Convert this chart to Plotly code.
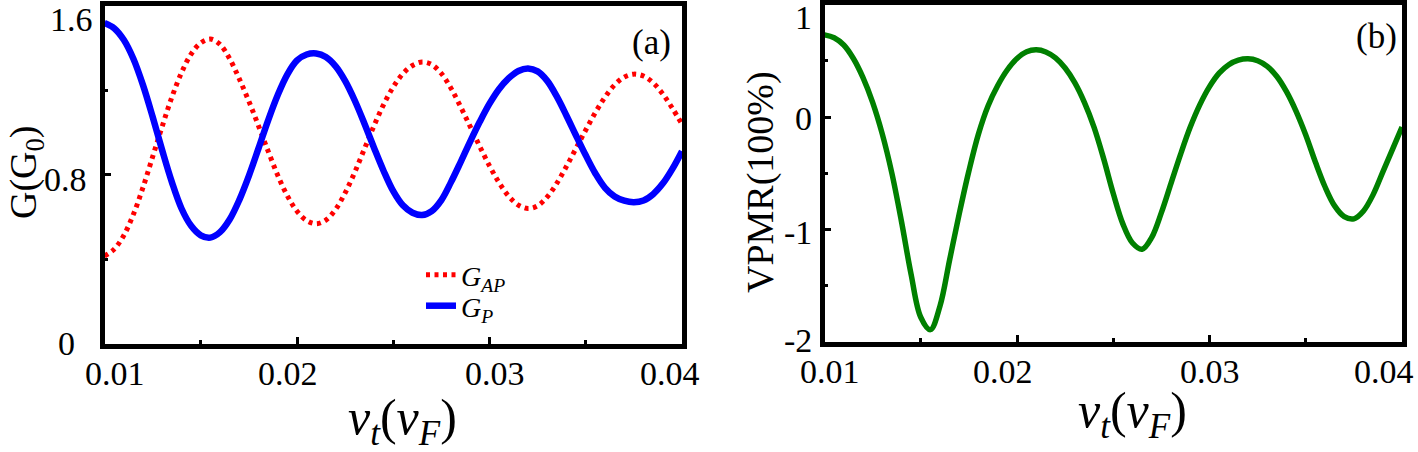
import plotly.graph_objects as go

# ---------------- data ----------------
vt = [0.0100, 0.0105, 0.0110, 0.0115, 0.0120, 0.0125, 0.0130, 0.0135, 0.0140, 0.0145,
      0.0150, 0.0155, 0.0160, 0.0165, 0.0170, 0.0175, 0.0180, 0.0185, 0.0190, 0.0195,
      0.0200, 0.0205, 0.0210, 0.0215, 0.0220, 0.0225, 0.0230, 0.0235, 0.0240, 0.0245,
      0.0250, 0.0255, 0.0260, 0.0265, 0.0270, 0.0275, 0.0280, 0.0285, 0.0290, 0.0295,
      0.0300, 0.0305, 0.0310, 0.0315, 0.0320, 0.0325, 0.0330, 0.0335, 0.0340, 0.0345,
      0.0350, 0.0355, 0.0360, 0.0365, 0.0370, 0.0375, 0.0380, 0.0385, 0.0390, 0.0395,
      0.0400]

g_ap = [0.415, 0.447, 0.512, 0.612, 0.740, 0.885, 1.030, 1.168, 1.284, 1.372,
        1.425, 1.443, 1.418, 1.350, 1.255, 1.148, 1.032, 0.912, 0.797, 0.700,
        0.627, 0.583, 0.568, 0.585, 0.635, 0.714, 0.812, 0.922, 1.032, 1.133,
        1.216, 1.279, 1.318, 1.334, 1.322, 1.280, 1.210, 1.122, 1.028, 0.933,
        0.842, 0.762, 0.698, 0.656, 0.640, 0.653, 0.695, 0.760, 0.840, 0.926,
        1.012, 1.095, 1.168, 1.226, 1.263, 1.277, 1.268, 1.236, 1.183, 1.115,
        1.040]

g_p = [1.520, 1.495, 1.440, 1.350, 1.225, 1.075, 0.915, 0.765, 0.640, 0.558,
       0.513, 0.502, 0.528, 0.588, 0.680, 0.795, 0.925, 1.058, 1.178, 1.276,
       1.342, 1.370, 1.375, 1.358, 1.315, 1.245, 1.152, 1.043, 0.928, 0.818,
       0.722, 0.655, 0.620, 0.609, 0.628, 0.680, 0.765, 0.860, 0.958, 1.052,
       1.137, 1.207, 1.258, 1.292, 1.304, 1.290, 1.245, 1.170, 1.080, 0.985,
       0.892, 0.806, 0.738, 0.697, 0.677, 0.670, 0.678, 0.708, 0.758, 0.828,
       0.912]

vpmr = [0.73, 0.705, 0.64, 0.52, 0.35, 0.13, -0.15, -0.50, -0.93, -1.40,
        -1.78, -1.89, -1.68, -1.27, -0.86, -0.48, -0.15, 0.10, 0.28, 0.42,
        0.52, 0.58, 0.597, 0.578, 0.525, 0.435, 0.305, 0.13, -0.09, -0.37,
        -0.68, -0.95, -1.12, -1.175, -1.07, -0.85, -0.59, -0.33, -0.09, 0.11,
        0.27, 0.39, 0.465, 0.505, 0.517, 0.50, 0.45, 0.36, 0.225, 0.05,
        -0.16, -0.40, -0.62, -0.79, -0.885, -0.905, -0.835, -0.69, -0.49, -0.29,
        -0.09]

x_tick_labels = ["0.01", "0.02", "0.03", "0.04"]
ya_tick_labels = ["0", "0.8", "1.6"]
yb_tick_labels = ["-2", "-1", "0", "1"]

# ---------------- styling / geometry ----------------
W, H = 1418, 452
FONT = "Liberation Serif, Times New Roman, Times, Tinos, DejaVu Serif, serif"
LW = 4.5


def fx(px):
    return px / W


def fy(py):
    return 1 - py / H


A_BOX = dict(l=104.5, r=682.0, t=6.0, b=343.5)
B_BOX = dict(l=824.5, r=1402.0, t=4.5, b=342.0)

fig = go.Figure()

fig.add_trace(go.Scatter(
    x=vt, y=g_ap, mode="lines", name="<i>G</i><sub><i>AP</i></sub>",
    line=dict(color="#ff0000", width=5, dash="4px,4.5px", shape="spline"),
    xaxis="x", yaxis="y", legend="legend"))
fig.add_trace(go.Scatter(
    x=vt, y=g_p, mode="lines", name="<i>G</i><sub><i>P</i></sub>",
    line=dict(color="#0000ff", width=6.5, shape="spline"),
    xaxis="x", yaxis="y", legend="legend2"))
fig.add_trace(go.Scatter(
    x=vt, y=vpmr, mode="lines", showlegend=False,
    line=dict(color="#008000", width=5.5, shape="spline"),
    xaxis="x2", yaxis="y2"))

common = dict(showline=True, linewidth=LW, linecolor="black", mirror=True,
              ticks="inside", tickcolor="black", tickwidth=3, ticklen=7,
              showgrid=False, zeroline=False, showticklabels=False)
minor_common = dict(ticks="inside", ticklen=4, tickwidth=3, tickcolor="black")
legend_common = dict(xanchor="left", yanchor="middle", bgcolor="rgba(0,0,0,0)",
                     font=dict(family=FONT, size=28))

fig.update_layout(
    width=W, height=H,
    margin=dict(l=0, r=0, t=0, b=0),
    paper_bgcolor="white", plot_bgcolor="white",
    font=dict(family=FONT, color="black"),
    xaxis=dict(domain=[fx(A_BOX["l"]), fx(A_BOX["r"])], anchor="y",
               range=[0.01, 0.04], tickvals=[0.02, 0.03],
               minor=dict(tickvals=[0.015, 0.025, 0.035], **minor_common),
               **common),
    yaxis=dict(domain=[fy(A_BOX["b"]), fy(A_BOX["t"])], anchor="x",
               range=[0, 1.6], tickvals=[0.8],
               minor=dict(tickvals=[0.4, 1.2], **minor_common),
               **common),
    xaxis2=dict(domain=[fx(B_BOX["l"]), fx(B_BOX["r"])], anchor="y2",
                range=[0.01, 0.04], tickvals=[0.02, 0.03],
                minor=dict(tickvals=[0.015, 0.025, 0.035], **minor_common),
                **common),
    yaxis2=dict(domain=[fy(B_BOX["b"]), fy(B_BOX["t"])], anchor="x2",
                range=[-2, 1], tickvals=[-1, 0],
                minor=dict(tickvals=[-1.5, -0.5, 0.5], **minor_common),
                **common),
    legend=dict(x=fx(421), y=fy(275), **legend_common),
    legend2=dict(x=fx(421), y=fy(306), **legend_common),
)

ann = []
TICK_SIZE = 34
a_x_centers = [115, 288, 495, 670]
b_x_centers = [830, 1003, 1210, 1384]
for lab, cx in zip(x_tick_labels, a_x_centers):
    ann.append(dict(text=lab, x=fx(cx), y=fy(373.5), xref="paper", yref="paper",
                    xanchor="center", yanchor="middle", showarrow=False,
                    font=dict(family=FONT, size=TICK_SIZE)))
for lab, cx in zip(x_tick_labels, b_x_centers):
    ann.append(dict(text=lab, x=fx(cx), y=fy(371.5), xref="paper", yref="paper",
                    xanchor="center", yanchor="middle", showarrow=False,
                    font=dict(family=FONT, size=TICK_SIZE)))
a_y_pos = [(66.5, 343), (65, 180), (71.5, 20)]
for lab, (cx, cy) in zip(ya_tick_labels, a_y_pos):
    ann.append(dict(text=lab, x=fx(cx), y=fy(cy), xref="paper", yref="paper",
                    xanchor="center", yanchor="middle", showarrow=False,
                    font=dict(family=FONT, size=TICK_SIZE)))
b_y_pos = [340, 232, 118, 18]
for lab, cy in zip(yb_tick_labels, b_y_pos):
    ann.append(dict(text=lab, x=fx(814), y=fy(cy), xref="paper", yref="paper",
                    xanchor="right", yanchor="middle", showarrow=False,
                    font=dict(family=FONT, size=TICK_SIZE)))

xtitle = "<i>v</i><sub><i>t</i></sub>(<i>v</i><sub><i>F</i></sub>)"
ann.append(dict(text=xtitle, x=fx(402), y=fy(421), xref="paper", yref="paper",
                xanchor="center", yanchor="middle", showarrow=False,
                font=dict(family=FONT, size=50)))
ann.append(dict(text=xtitle, x=fx(1132), y=fy(414), xref="paper", yref="paper",
                xanchor="center", yanchor="middle", showarrow=False,
                font=dict(family=FONT, size=50)))
ann.append(dict(text="G(G<sub>0</sub>)", x=fx(26), y=fy(172), xref="paper",
                yref="paper", xanchor="center", yanchor="middle", textangle=-90,
                showarrow=False, font=dict(family=FONT, size=38)))
ann.append(dict(text="VPMR(100%)", x=fx(760), y=fy(182), xref="paper",
                yref="paper", xanchor="center", yanchor="middle", textangle=-90,
                showarrow=False, font=dict(family=FONT, size=38)))
ann.append(dict(text="(a)", x=fx(651), y=fy(42), xref="paper", yref="paper",
                xanchor="center", yanchor="middle", showarrow=False,
                font=dict(family=FONT, size=35)))
ann.append(dict(text="(b)", x=fx(1376), y=fy(36), xref="paper", yref="paper",
                xanchor="center", yanchor="middle", showarrow=False,
                font=dict(family=FONT, size=35)))
fig.update_layout(annotations=ann)

fig.write_html("out.html",
               config={"displayModeBar": False},
               post_script="document.body.style.margin='0';"
                           "document.body.style.padding='0';"
                           "document.body.style.overflow='hidden';")
